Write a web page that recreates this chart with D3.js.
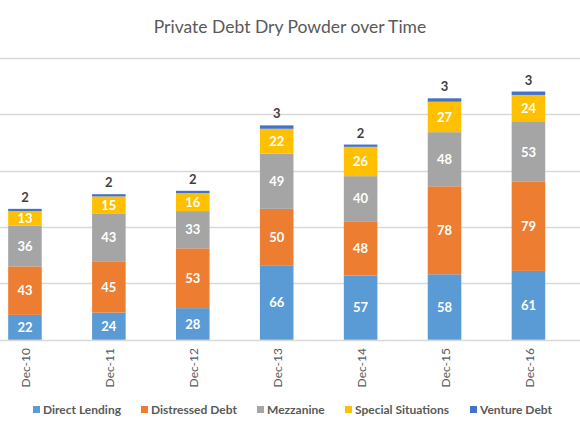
<!DOCTYPE html>
<meta charset="utf-8">
<script src="https://d3js.org/d3.v7.min.js"></script>
<style>
  body { margin: 0; background: #fff; }
  text { font-family: Lato, "Liberation Sans", sans-serif; }
</style>
<body>
<div id="chart"></div>
</body>
<script>
// data
var years = ["Dec-10", "Dec-11", "Dec-12", "Dec-13", "Dec-14", "Dec-15", "Dec-16"]
var seriesNames = ["Direct Lending", "Distressed Debt", "Mezzanine", "Special Situations", "Venture Debt"]
var directLending = [22, 24, 28, 66, 57, 58, 61]
var distressedDebt = [43, 45, 53, 50, 48, 78, 79]
var mezzanine = [36, 43, 33, 49, 40, 48, 53]
var specialSituations = [13, 15, 16, 22, 26, 27, 24]
var ventureDebt = [2, 2, 2, 3, 2, 3, 3]
var yTicks = [0, 50, 100, 150, 200, 250]

var colors = ["#5B9BD5", "#ED7D31", "#A5A5A5", "#FFC000", "#4472C4"]

var width = 580, height = 435

var svg = d3.select("#chart")
  .append("svg")
  .attr("width", width)
  .attr("height", height)

// build rows for the stack
var rows = years.map(function(y, i) {
  return {
    year: y,
    "Direct Lending": directLending[i],
    "Distressed Debt": distressedDebt[i],
    "Mezzanine": mezzanine[i],
    "Special Situations": specialSituations[i],
    "Venture Debt": ventureDebt[i]
  }
})
var stacked = d3.stack().keys(seriesNames)(rows)

var x = d3.scaleBand()
  .domain(years)
  .range([-17, 570.4])
  .paddingInner(0.6)
  .paddingOuter(0.3)

var y = d3.scaleLinear()
  .domain([0, 250])
  .range([339.7, 57.7])

// title
svg.append("text")
  .attr("x", 290)
  .attr("y", 33)
  .attr("text-anchor", "middle")
  .attr("fill", "#595959")
  .style("font-size", "17.5px")
  .text("Private Debt Dry Powder over Time")

// gridlines
svg.append("g")
  .selectAll("line")
  .data(yTicks)
  .enter()
  .append("line")
  .attr("x1", 0)
  .attr("x2", width)
  .attr("y1", function(d) { return Math.round(y(d)) + 0.5 })
  .attr("y2", function(d) { return Math.round(y(d)) + 0.5 })
  .attr("stroke", "#D9D9D9")
  .attr("stroke-width", 1.3)

// bars
var layer = svg.append("g")
  .selectAll("g")
  .data(stacked)
  .enter()
  .append("g")
  .attr("fill", function(d, i) { return colors[i] })

layer.selectAll("rect")
  .data(function(d) { return d })
  .enter()
  .append("rect")
  .attr("x", function(d) { return x(d.data.year) })
  .attr("y", function(d) { return y(d[1]) })
  .attr("width", x.bandwidth())
  .attr("height", function(d) { return y(d[0]) - y(d[1]) })

// segment labels, venture debt goes on top of the bar
stacked.forEach(function(s, si) {
  var inside = si < 4
  svg.append("g")
    .selectAll("text")
    .data(s)
    .enter()
    .append("text")
    .attr("x", function(d) { return x(d.data.year) + x.bandwidth() / 2 })
    .attr("y", function(d) {
      return inside ? (y(d[0]) + y(d[1])) / 2 : y(d[1]) - 7
    })
    .attr("dy", inside ? "0.36em" : "0")
    .attr("text-anchor", "middle")
    .attr("fill", inside ? "#fff" : "#404040")
    .style("font-size", "13px")
    .style("font-weight", "bold")
    .text(function(d) { return d[1] - d[0] })
})

// x labels rotated
svg.append("g")
  .selectAll("text")
  .data(years)
  .enter()
  .append("text")
  .attr("transform", function(d) {
    return "translate(" + (x(d) + x.bandwidth() / 2 + 1) + ",348) rotate(-90)"
  })
  .attr("text-anchor", "end")
  .attr("dy", "0.35em")
  .attr("fill", "#595959")
  .style("font-size", "12px")
  .text(function(d) { return d })

// legend
var legendX = [33, 141, 257, 345, 470]
var legend = svg.append("g")
  .selectAll("g")
  .data(seriesNames)
  .enter()
  .append("g")
  .attr("transform", function(d, i) { return "translate(" + legendX[i] + ",406)" })

legend.append("rect")
  .attr("width", 7)
  .attr("height", 7)
  .attr("fill", function(d, i) { return colors[i] })

legend.append("text")
  .attr("x", 10)
  .attr("y", 4)
  .attr("dy", "0.35em")
  .attr("fill", "#595959")
  .style("font-size", "12px")
  .style("font-weight", "bold")
  .text(function(d) { return d })
</script>
